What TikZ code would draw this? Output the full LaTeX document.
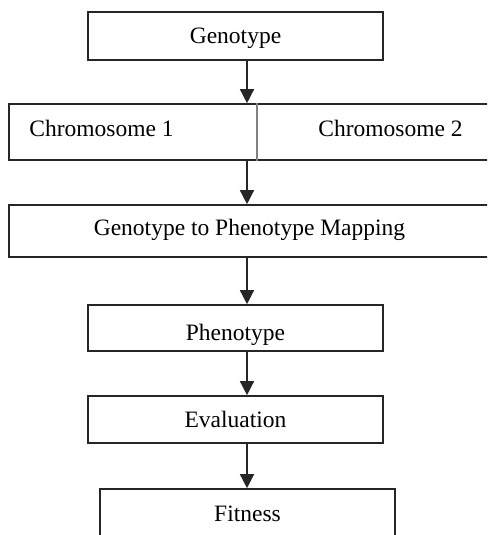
\documentclass[tikz,border=0pt]{standalone}
\usepackage{fontspec}
\setmainfont{Liberation Serif}
\usetikzlibrary{arrows.meta}
\definecolor{edge}{HTML}{262626}
\tikzset{
  box/.style={draw=edge, line width=1.6pt, rectangle, inner sep=0pt,
    font=\fontsize{23.5}{28}\selectfont, text height=16pt, text depth=0pt},
  lbl/.style={inner sep=0pt, font=\fontsize{23.5}{28}\selectfont, text height=16pt, text depth=0pt},
  arr/.style={draw=edge, line width=1.4pt, -{Triangle[width=14pt,length=14pt]}},
}
\begin{document}
\begin{tikzpicture}[x=1pt,y=-1pt]
\useasboundingbox (0,0) rectangle (487,535);
\clip (0,0) rectangle (487,535);
\coordinate (ax) at (247,0);
\node[box, minimum width=295, minimum height=48] (geno) at (235.5,36) {Genotype};
\node[box, minimum width=481, minimum height=56] (chrom) at (249.5,132) {};
\node[lbl] (c1) at (101.5,128) {Chromosome 1};
\node[lbl] (c2) at (390.5,128) {Chromosome 2};
\draw[gray, line width=1.3pt] (chrom.north -| 257,0) -- (chrom.south -| 257,0);
\node[box, minimum width=481, minimum height=52, text depth=7pt] (map) at (249.5,231) {Genotype to Phenotype Mapping};
\node[box, minimum width=295, minimum height=46, text height=24pt] (phen) at (235.5,328) {Phenotype};
\node[box, minimum width=295, minimum height=47] (eval) at (235.5,419.5) {Evaluation};
\node[box, minimum width=295, minimum height=48] (fit) at (247.5,513) {Fitness};
\draw[arr] (geno.south -| ax) -- (chrom.north -| ax);
\draw[arr] (chrom.south -| ax) -- (map.north -| ax);
\draw[arr] (map.south -| ax) -- (phen.north -| ax);
\draw[arr] (phen.south -| ax) -- (eval.north -| ax);
\draw[arr] (eval.south -| ax) -- (fit.north -| ax);
\end{tikzpicture}
\end{document}
